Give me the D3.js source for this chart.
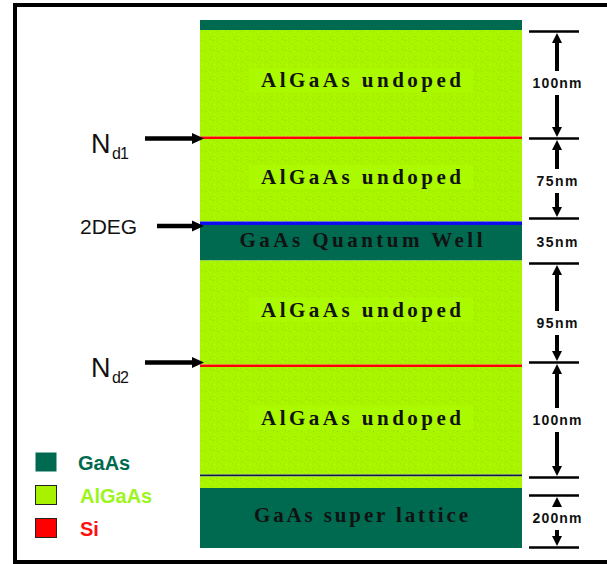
<!DOCTYPE html>
<html><head><meta charset="utf-8">
<script src="https://cdn.jsdelivr.net/npm/d3@7"></script>
<style>html,body{margin:0;padding:0;background:#fff;}svg{display:block;}</style>
</head><body><svg id="c" width="607" height="564"></svg>
<script>
// ---- data ----
const layerMaterial = ["GaAs","AlGaAs","Si","AlGaAs","2DEG","GaAs","AlGaAs","Si","AlGaAs","interface","AlGaAs","GaAs"];
const layerThickness = [10,106.5,2.5,82.5,3.5,35.5,104,2.5,107.5,2,11.5,60]; // drawn thickness (diagram units)
const layerLabels = ["","AlGaAs undoped","","AlGaAs undoped","","GaAs Quantum Well","AlGaAs undoped","","AlGaAs undoped","","","GaAs super lattice"];
const labelWidths = [0,200,0,200,0,243,200,0,200,0,0,214];

const dimLabels = ["100nm","75nm","35nm","95nm","100nm","200nm"];
const dimStart = [11,118,198,243,342,475];
const dimEnd = [118,198,243,342,457,527];
const dimLabelAt = [63,161,222,303,400,498];
const dimArrows = [true,true,false,true,true,true];

const pointerLabels = ["N","2DEG","N"];
const pointerSubs = ["d1","","d2"];
const pointerAt = [118.5,206,342.5];

const legendNames = ["GaAs","AlGaAs","Si"];

const colors = {GaAs:"#006a50", AlGaAs:"#a8f200", Si:"#ff0000", "2DEG":"#0c0cf0", interface:"#0b1846"};
const legendText = {GaAs:"#006a50", AlGaAs:"#9cf51c", Si:"#ff1010"};

// ---- chart ----
const svg = d3.select("#c");
const total = d3.sum(layerThickness);
const y = d3.scaleLinear().domain([0,total]).range([20,548]);
const x0 = 200, x1 = 522;

// texture pattern for AlGaAs
const defs = svg.append("defs");
const pat = defs.append("pattern").attr("id","alg").attr("patternUnits","userSpaceOnUse").attr("width",12).attr("height",10);
pat.append("rect").attr("width",12).attr("height",10).attr("fill","#a9f500");
const specks = [[1,1,"#98dc00"],[5,2,"#b8ff10"],[9,0,"#98dc00"],[3,5,"#b4ff00"],[7,6,"#9ae000"],[10,4,"#b8ff10"],[0,8,"#9ae000"],[6,9,"#98dc00"],[4,3,"#9ee400"],[11,8,"#b4ff00"]];
specks.forEach(s=>pat.append("rect").attr("x",s[0]).attr("y",s[1]).attr("width",1).attr("height",1).attr("fill",s[2]));

let acc = 0;
const layers = layerThickness.map((t,i)=>{const l={i,mat:layerMaterial[i],top:acc,bot:acc+t,label:layerLabels[i],w:labelWidths[i]};acc+=t;return l;});

svg.append("g").selectAll("rect").data(layers).join("rect")
  .attr("x",x0).attr("width",x1-x0)
  .attr("y",d=>y(d.top)).attr("height",d=>y(d.bot)-y(d.top))
  .attr("fill",d=>d.mat==="AlGaAs"?"url(#alg)":colors[d.mat]);

// label boxes + text
const lg = svg.append("g");
layers.filter(d=>d.label).forEach(d=>{
  const cy = (y(d.top)+y(d.bot))/2;
  if(d.mat==="AlGaAs"){
    lg.append("rect").attr("x",(x0+x1)/2-d.w/2-12).attr("y",cy-15).attr("width",d.w+24).attr("height",24).attr("fill","#acfa00");
  }
  lg.append("text").attr("x",(x0+x1)/2).attr("y",cy+4)
    .attr("text-anchor","middle").attr("textLength",d.w).attr("lengthAdjust","spacing")
    .attr("font-family","'Liberation Serif','Times New Roman',serif").attr("font-weight","bold")
    .attr("font-size",21).attr("fill","#121212").text(d.label);
});

// dimension annotations
const dg = svg.append("g");
const tx0=529, tx1=579, tcx=557;
const ticks = [];
dimStart.forEach((s,i)=>{ticks.push(s); ticks.push(dimEnd[i]);});
const uniqTicks = Array.from(new Set(ticks));
dg.selectAll("line.tick").data(uniqTicks).join("line").attr("class","tick")
  .attr("x1",tx0).attr("x2",tx1).attr("y1",d=>y(d)+0.5).attr("y2",d=>y(d)+0.5)
  .attr("stroke","#000").attr("stroke-width",2.5);
dimLabels.forEach((lab,i)=>{
  const ys=y(dimStart[i]), ye=y(dimEnd[i]), yl=y(dimLabelAt[i]);
  if(dimArrows[i]){
    const gap = 12;
    dg.append("line").attr("x1",tcx).attr("x2",tcx).attr("y1",ys+8).attr("y2",yl-gap).attr("stroke","#000").attr("stroke-width",4);
    dg.append("path").attr("d",`M${tcx},${ys+2} L${tcx-5},${ys+12} L${tcx+5},${ys+12} Z`).attr("fill","#000");
    dg.append("line").attr("x1",tcx).attr("x2",tcx).attr("y1",yl+gap).attr("y2",ye-8).attr("stroke","#000").attr("stroke-width",4);
    dg.append("path").attr("d",`M${tcx},${ye-1} L${tcx-5},${ye-11} L${tcx+5},${ye-11} Z`).attr("fill","#000");
  }
  dg.append("text").attr("x",tcx).attr("y",yl+5)
    .attr("text-anchor","middle").attr("textLength",lab.length===5?49:41).attr("lengthAdjust","spacing")
    .attr("font-family","'Liberation Sans',Arial,sans-serif").attr("font-weight","bold")
    .attr("font-size",14).attr("fill","#111").text(lab);
});

// left pointers
const pg = svg.append("g");
pointerLabels.forEach((lab,i)=>{
  const py = y(pointerAt[i]);
  const xs = pointerSubs[i] ? 145 : 157;
  pg.append("line").attr("x1",xs).attr("x2",194).attr("y1",py).attr("y2",py).attr("stroke","#000").attr("stroke-width",4.5);
  pg.append("path").attr("d",`M204,${py} L192,${py-5.5} L192,${py+5.5} Z`).attr("fill","#000");
  if(pointerSubs[i]){
    pg.append("text").attr("x",91).attr("y",py+14)
      .attr("font-family","'Liberation Sans',Arial,sans-serif").attr("font-size",27).attr("fill","#111").text(lab);
    pg.append("text").attr("x",112).attr("y",py+20)
      .attr("font-family","'Liberation Sans',Arial,sans-serif").attr("font-size",16).attr("letter-spacing",-1).attr("fill","#111").text(pointerSubs[i]);
  } else {
    pg.append("text").attr("x",80).attr("y",py+7.5)
      .attr("font-family","'Liberation Sans',Arial,sans-serif").attr("font-size",21).attr("fill","#111").text(lab);
  }
});

// legend
const leg = svg.append("g");
const legY = d3.scalePoint().domain(legendNames).range([462,528]);
legendNames.forEach(n=>{
  const cy = legY(n);
  leg.append("rect").attr("x",35.5).attr("y",cy-9.5).attr("width",21).attr("height",19)
    .attr("fill",colors[n]).attr("stroke",n==="GaAs"?"none":"#222").attr("stroke-width",1);
  leg.append("text").attr("x",n==="GaAs"?78:80).attr("y",cy+7.5)
    .attr("font-family","'Liberation Sans',Arial,sans-serif").attr("font-weight","bold")
    .attr("font-size",20).attr("fill",legendText[n]).text(n);
});

// frame
svg.append("rect").attr("x",15).attr("y",5).attr("width",640).attr("height",557)
  .attr("fill","none").attr("stroke","#000").attr("stroke-width",4);
</script></body></html>
